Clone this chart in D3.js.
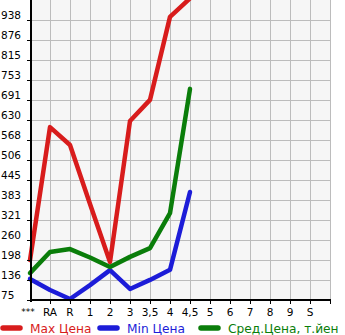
<!DOCTYPE html>
<html>
<head>
<meta charset="utf-8">
<script src="https://cdn.jsdelivr.net/npm/d3@7"></script>
<style>
  body { margin: 0; background: #fff; }
  svg { display: block; font-family: "DejaVu Sans", sans-serif; }
</style>
</head>
<body>
<svg id="chart" width="345" height="335"></svg>
<script>
// categories along the bottom
const categories = ["***", "RA", "R", "1", "2", "3", "3,5", "4", "4,5", "5", "6", "7", "8", "9", "S"]
// y tick labels as printed
const yTickLabels = ["75", "136", "198", "260", "321", "383", "445", "506", "568", "630", "691", "753", "815", "876", "938"]
// series values, null = no data
const maxPrice = [198, 608, 553, 371, 192, 627, 692, 948, 1005, null, null, null, null, null, null]
const minPrice = [140, 106, 78, 121, 167, 109, 137, 168, 408, null, null, null, null, null, null]
const avgPrice = [158, 223, 232, 206, 177, 208, 235, 343, 726, null, null, null, null, null, null]

const seriesNames = ["Max Цена", "Min Цена", "Сред.Цена, т.йен"]
const seriesColors = ["#d81c1c", "#1c1cd8", "#0a7d0a"]

const svg = d3.select("#chart")
const plotLeft = 31, plotRight = 330, plotTop = 0, plotBottom = 300

const x = d3.scaleLinear().domain([0, 15]).range([30, 330])
const y = d3.scaleLinear().domain([75, 1000]).range([plotBottom, plotTop])
const yVals = d3.range(15).map((i) => 75 + i * (925 / 15))

// plot background
svg.append("rect")
  .attr("x", plotLeft).attr("y", plotTop)
  .attr("width", plotRight - plotLeft).attr("height", plotBottom - plotTop)
  .attr("fill", "#f6f6f6")

// grid
const grid = svg.append("g").attr("stroke", "#bcbcbc").attr("stroke-width", 1)
d3.range(1, 16).forEach((i) => {
  grid.append("line")
    .attr("x1", Math.round(x(i)) + 0.5).attr("x2", Math.round(x(i)) + 0.5)
    .attr("y1", plotTop).attr("y2", plotBottom)
})
yVals.slice(1).forEach((v) => {
  grid.append("line")
    .attr("x1", plotLeft).attr("x2", plotRight + 1)
    .attr("y1", Math.round(y(v)) + 0.5).attr("y2", Math.round(y(v)) + 0.5)
})

// series lines
const clip = svg.append("clipPath").attr("id", "plotclip")
clip.append("rect").attr("x", 0).attr("y", plotTop).attr("width", 345).attr("height", 335)

const line = d3.line()
  .defined((d) => d != null)
  .x((d, i) => x(i))
  .y((d) => y(d))

;[maxPrice, minPrice, avgPrice].forEach((data, k) => {
  svg.append("path")
    .datum(data)
    .attr("clip-path", "url(#plotclip)")
    .attr("fill", "none")
    .attr("stroke", seriesColors[k])
    .attr("stroke-width", 4.5)
    .attr("stroke-linejoin", "round")
    .attr("stroke-linecap", "round")
    .attr("d", line)
})

// axes
svg.append("line")
  .attr("x1", 31).attr("x2", 31).attr("y1", plotTop).attr("y2", plotBottom + 2)
  .attr("stroke", "#000").attr("stroke-width", 2)
svg.append("line")
  .attr("x1", 30).attr("x2", plotRight + 1).attr("y1", plotBottom).attr("y2", plotBottom)
  .attr("stroke", "#000").attr("stroke-width", 2)

// y ticks + labels
yVals.forEach((v, i) => {
  const yy = Math.round(y(v))
  svg.append("line")
    .attr("x1", 27).attr("x2", 31).attr("y1", yy + 0.5).attr("y2", yy + 0.5)
    .attr("stroke", "#000")
  svg.append("text")
    .attr("x", 1).attr("y", yy - 1)
    .attr("font-size", 10.5)
    .attr("fill", "#000")
    .text(yTickLabels[i])
})

// x ticks + labels
categories.forEach((c, i) => {
  const xx = Math.round(x(i + 1)) + 0.5
  svg.append("line")
    .attr("x1", xx).attr("x2", xx).attr("y1", plotBottom).attr("y2", plotBottom + 4)
    .attr("stroke", "#000")
  svg.append("text")
    .attr("x", x(i) - (i == 0 ? 2 : 0))
    .attr("y", i == 0 ? 315 : 316)
    .attr("text-anchor", "middle")
    .attr("font-size", i == 0 ? 9 : 10.5)
    .attr("fill", "#000")
    .text(c)
})

// legend
const legendX = [0, 97, 198]
seriesNames.forEach((name, k) => {
  const g = svg.append("g").attr("transform", `translate(${legendX[k]},328)`)
  g.append("line")
    .attr("x1", 3).attr("x2", 20).attr("y1", 0).attr("y2", 0)
    .attr("stroke", seriesColors[k]).attr("stroke-width", 5.5)
    .attr("stroke-linecap", "round")
  g.append("text")
    .attr("x", 30).attr("y", 4.5)
    .attr("font-size", 12.2)
    .attr("fill", seriesColors[k])
    .text(name)
})
</script>
</body>
</html>
